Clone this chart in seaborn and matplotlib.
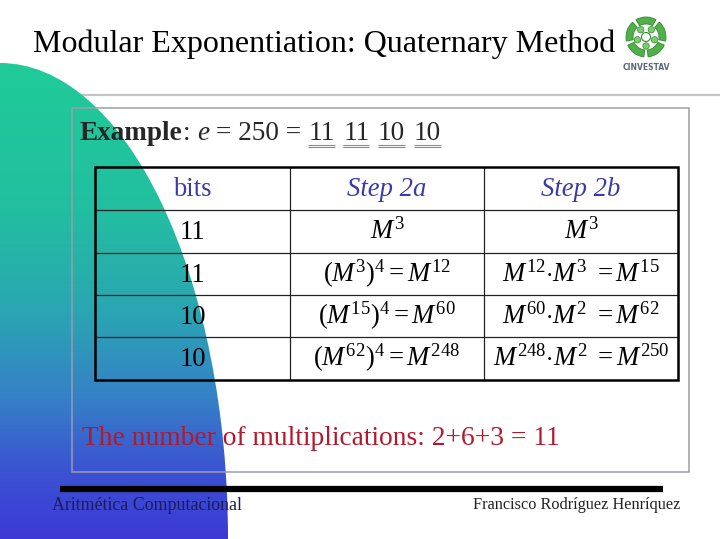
import numpy as np
import pandas as pd
import seaborn as sns
import matplotlib
matplotlib.use("Agg")
import matplotlib.pyplot as plt
from matplotlib.patches import Ellipse, Rectangle, Wedge, Circle
from matplotlib.colors import LinearSegmentedColormap

# ---------------- data ----------------
title = "Modular Exponentiation: Quaternary Method"
exponent = 250
digit_pairs = ["11", "11", "10", "10"]
col_headers = ["bits", "Step 2a", "Step 2b"]
bits = ["11", "11", "10", "10"]
step2a = [r"$M^{3}$", r"$(M^{3})^{4} = M^{12}$", r"$(M^{15})^{4} = M^{60}$", r"$(M^{62})^{4} = M^{248}$"]
step2b = [r"$M^{3}$", r"$M^{12}{\cdot}M^{3}\ =M^{15}$", r"$M^{60}{\cdot}M^{2}\ =M^{62}$", r"$M^{248}{\cdot}M^{2}\ =M^{250}$"]
mults = [2, 6, 3]
footer_left = "Aritmética Computacional"
footer_right = "Francisco Rodríguez Henríquez"

table = pd.DataFrame({"bits": bits, "Step 2a": step2a, "Step 2b": step2b})

# ---------------- style ----------------
sns.set_theme(style="white")
plt.rcParams["font.family"] = ["Liberation Serif", "DejaVu Serif"]
plt.rcParams["mathtext.fontset"] = "custom"
plt.rcParams["mathtext.rm"] = "Liberation Serif"
plt.rcParams["mathtext.it"] = "Liberation Serif:italic"
plt.rcParams["mathtext.bf"] = "Liberation Serif:bold"

W, H = 720, 539
fig = plt.figure(figsize=(W / 100, H / 100), dpi=100)
ax = fig.add_axes([0, 0, 1, 1])
ax.set_xlim(0, W)
ax.set_ylim(H, 0)
ax.axis("off")
fig.patch.set_facecolor("white")

# grey rule under title
ax.plot([0, W], [95, 95], color="#c4c4c4", lw=1.6, zorder=1, solid_capstyle="butt")

# gradient shape on left
stops = [(0.0, "#1fcb98"), (0.30, "#22bfa0"), (0.52, "#2aa6b2"), (0.70, "#3582c6"),
         (0.85, "#3b55d2"), (1.0, "#3c38d6")]
cmap = LinearSegmentedColormap.from_list("slide", stops)
grad = np.linspace(0, 1, 400).reshape(-1, 1)
im = ax.imshow(grad, cmap=cmap, aspect="auto", extent=[0, 240, 539, 63], zorder=2,
               interpolation="bilinear")
clip = Ellipse((0, 539), 2 * 228, 2 * 476, transform=ax.transData, facecolor="none", edgecolor="none")
ax.add_patch(clip)
im.set_clip_path(clip)
ax.set_xlim(0, W)
ax.set_ylim(H, 0)

# content frame
ax.add_patch(Rectangle((72, 107.5), 617, 364.5, facecolor="none", edgecolor="#9c9cab", lw=1.1, zorder=3))

# title
ax.text(33, 52, title, fontsize=23.0, color="black", ha="left", va="baseline", zorder=5)

# logo
cx, cy = 646, 37
for k in range(5):
    a0 = 90 + k * 72
    ax.add_patch(Wedge((cx, cy), 20, a0 + 6, a0 + 66, width=7, facecolor="#52b04a",
                       edgecolor="#2f8a2f", lw=0.6, zorder=5))
    ang = np.deg2rad(a0 + 36)
    ax.add_patch(Circle((cx + 9 * np.cos(ang), cy - 9 * np.sin(ang)), 3.2, facecolor="#7ccc6c",
                        edgecolor="#2f8a2f", lw=0.5, zorder=5))
ax.add_patch(Circle((cx, cy), 4.5, facecolor="white", edgecolor="#2f8a2f", lw=0.8, zorder=6))
ax.text(cx, 67, "CINVESTAV", fontsize=5.5, fontweight="bold", family="DejaVu Sans",
        color="#58687a", ha="center", va="center", zorder=5)

fig.canvas.draw()
renderer = fig.canvas.get_renderer()

# Example line
x = 80
yb = 140
fs = 19.6
pieces = [("Example", dict(fontweight="bold")), (": ", {}), ("e", dict(style="italic")),
          (f" = {exponent} = ", {})]
for txt, kw in pieces:
    t = ax.text(x, yb, txt, fontsize=fs, ha="left", va="baseline", zorder=5, **kw)
    x += t.get_window_extent(renderer).width
sp_w = 8.5
for i, p in enumerate(digit_pairs):
    t = ax.text(x, yb, p, fontsize=fs, ha="left", va="baseline", zorder=5)
    w = t.get_window_extent(renderer).width
    for dy in (4.5, 6.5):
        ax.plot([x, x + w], [yb + dy, yb + dy], color="#8a8a8a", lw=0.8, zorder=5,
                solid_capstyle="butt")
    x += w + sp_w

# table
xs = [95, 290, 484, 678]
ys = [167, 210, 253, 295, 337, 380]
for yy in ys[1:-1]:
    ax.plot([xs[0], xs[-1]], [yy, yy], color="#222222", lw=0.9, zorder=4)
for xx in xs[1:-1]:
    ax.plot([xx, xx], [ys[0], ys[-1]], color="#222222", lw=0.9, zorder=4)
ax.add_patch(Rectangle((xs[0], ys[0]), xs[-1] - xs[0], ys[-1] - ys[0], facecolor="none",
                       edgecolor="black", lw=1.8, zorder=4))

hdr_color = "#3a3aa8"
tfs = 19.2
for j, h in enumerate(col_headers):
    xc = (xs[j] + xs[j + 1]) / 2
    yc = (ys[0] + ys[1]) / 2
    ax.text(xc, yc + 7.5, h, fontsize=tfs, color=hdr_color, ha="center", va="baseline",
            style="normal" if j == 0 else "italic", zorder=5)

for i, row in table.iterrows():
    yc = (ys[i + 1] + ys[i + 2]) / 2
    for j, col in enumerate(table.columns):
        xc = (xs[j] + xs[j + 1]) / 2
        ax.text(xc, yc + 7.5, row[col], fontsize=tfs, color="black", ha="center", va="baseline", zorder=5)

# multiplications line
mtext = "The number of multiplications: " + "+".join(str(m) for m in mults) + f" = {sum(mults)}"
ax.text(82, 445, mtext, fontsize=19.8, color="#b3182c", ha="left", va="baseline", zorder=5)

# footer
ax.plot([60, 663], [489, 489], color="black", lw=4.5, zorder=5, solid_capstyle="butt")
ax.text(52, 510, footer_left, fontsize=12.9, color="#1c1c5c", ha="left", va="baseline", zorder=5)
ax.text(680, 509, footer_right, fontsize=11.7, color="#222222", ha="right", va="baseline", zorder=5)

fig.savefig("out.png", dpi=100, facecolor="white")
